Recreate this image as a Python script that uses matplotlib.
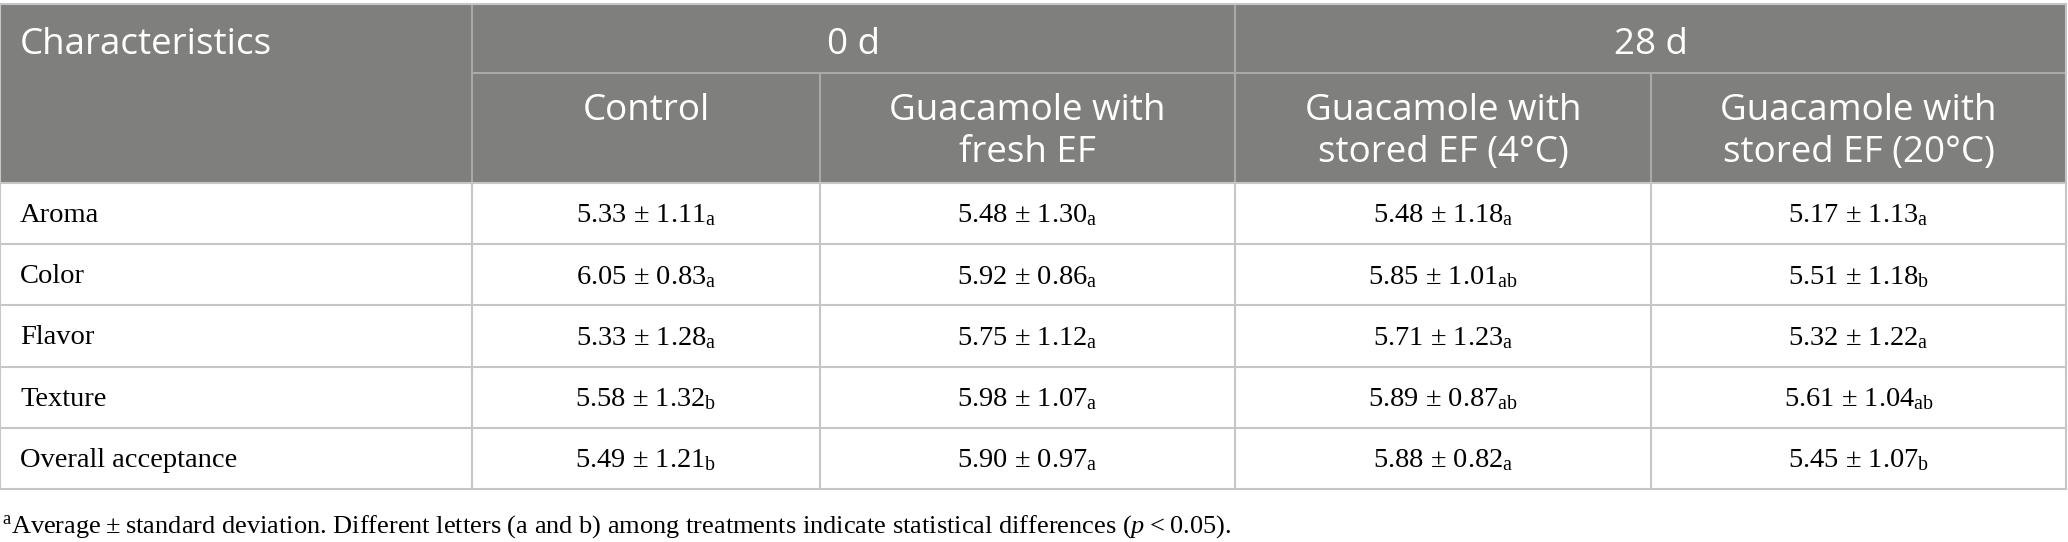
import matplotlib
matplotlib.use("Agg")
import matplotlib.pyplot as plt
from matplotlib.patches import Rectangle

plt.rcParams['mathtext.fontset'] = 'custom'
plt.rcParams['mathtext.rm'] = 'Liberation Serif'
plt.rcParams['mathtext.it'] = 'Liberation Serif:italic'

# table content
characteristics = ["Aroma", "Color", "Flavor", "Texture", "Overall acceptance"]
periods = ["0 d", "28 d"]
treatments = ["Control", "Guacamole with\nfresh EF",
              "Guacamole with\nstored EF (4\u00b0C)", "Guacamole with\nstored EF (20\u00b0C)"]
means = [
    [5.33, 5.48, 5.48, 5.17],
    [6.05, 5.92, 5.85, 5.51],
    [5.33, 5.75, 5.71, 5.32],
    [5.58, 5.98, 5.89, 5.61],
    [5.49, 5.90, 5.88, 5.45],
]
sds = [
    [1.11, 1.30, 1.18, 1.13],
    [0.83, 0.86, 1.01, 1.18],
    [1.28, 1.12, 1.23, 1.22],
    [1.32, 1.07, 0.87, 1.04],
    [1.21, 0.97, 0.82, 1.07],
]
letters = [
    ["a", "a", "a", "a"],
    ["a", "a", "ab", "b"],
    ["a", "a", "a", "a"],
    ["b", "a", "ab", "ab"],
    ["b", "a", "a", "b"],
]
footnote = ("$^{\\mathrm{a}}$Average\u2009\u00b1\u2009standard deviation. Different letters (a and b) "
            "among treatments indicate statistical differences ($\\it{p}$\u2009<\u20090.05).")

# layout (pixels)
W, H = 2068, 542
col_x = [0, 472, 820, 1235, 1651, 2066]
top, mid, hbot = 4, 73, 183
row_h = 61.2
head_c = "#7f807e"
line_c = "#c6c6c6"
hline_c = "#a9aaa8"
sans = "Open Sans"
serif = "Liberation Serif"
hfs, bfs = 26.5, 20.5

fig = plt.figure(figsize=(W / 100, H / 100), dpi=100)
ax = fig.add_axes([0, 0, 1, 1])
ax.set_xlim(0, W)
ax.set_ylim(H, 0)
ax.axis("off")

# header background
ax.add_patch(Rectangle((col_x[0], top), col_x[-1] - col_x[0], hbot - top,
                       facecolor=head_c, edgecolor="none", zorder=0))
# header lines
ax.plot([col_x[1], col_x[-1]], [mid, mid], color=hline_c, lw=1.5)
for x in (col_x[1], col_x[3]):
    ax.plot([x, x], [top, hbot], color=hline_c, lw=1.5)
for x in (col_x[2], col_x[4]):
    ax.plot([x, x], [mid, hbot], color=hline_c, lw=1.5)
ax.plot([col_x[0], col_x[-1]], [top, top], color=line_c, lw=1.5)

# header text
ax.text(20, 45, "Characteristics", color="white", fontsize=hfs, family=sans,
        ha="left", va="center")
ax.text((col_x[1] + col_x[3]) / 2, 45, periods[0], color="white", fontsize=hfs,
        family=sans, ha="center", va="center")
ax.text((col_x[3] + col_x[5]) / 2, 45, periods[1], color="white", fontsize=hfs,
        family=sans, ha="center", va="center")
for j, t in enumerate(treatments):
    for k, line in enumerate(t.split("\n")):
        ax.text((col_x[j + 1] + col_x[j + 2]) / 2, 111 + 42 * k, line, color="white",
                fontsize=hfs, family=sans, ha="center", va="center")

# body
n = len(characteristics)
for i, name in enumerate(characteristics):
    yc = hbot + row_h * (i + 0.5) + 2
    ax.text(20, yc, name, fontsize=bfs, family=serif, ha="left", va="center")
    for j in range(4):
        s = f"{means[i][j]:.2f} \u00b1 {sds[i][j]:.2f}$_{{\\mathrm{{{letters[i][j]}}}}}$"
        ax.text((col_x[j + 1] + col_x[j + 2]) / 2, yc, s, fontsize=bfs,
                family=serif, ha="center", va="center")
for i in range(n + 1):
    y = hbot + row_h * i
    ax.plot([col_x[0], col_x[-1]], [y, y], color=line_c, lw=1.5)
bot = hbot + row_h * n
for x in col_x:
    ax.plot([x, x], [hbot, bot], color=line_c, lw=1.5)
ax.plot([col_x[0], col_x[0]], [top, hbot], color=line_c, lw=1.5)
ax.plot([col_x[-1], col_x[-1]], [top, hbot], color=line_c, lw=1.5)

ax.text(2, 527, footnote, fontsize=19, family=serif, ha="left", va="center")

fig.savefig("out.png", dpi=100)
